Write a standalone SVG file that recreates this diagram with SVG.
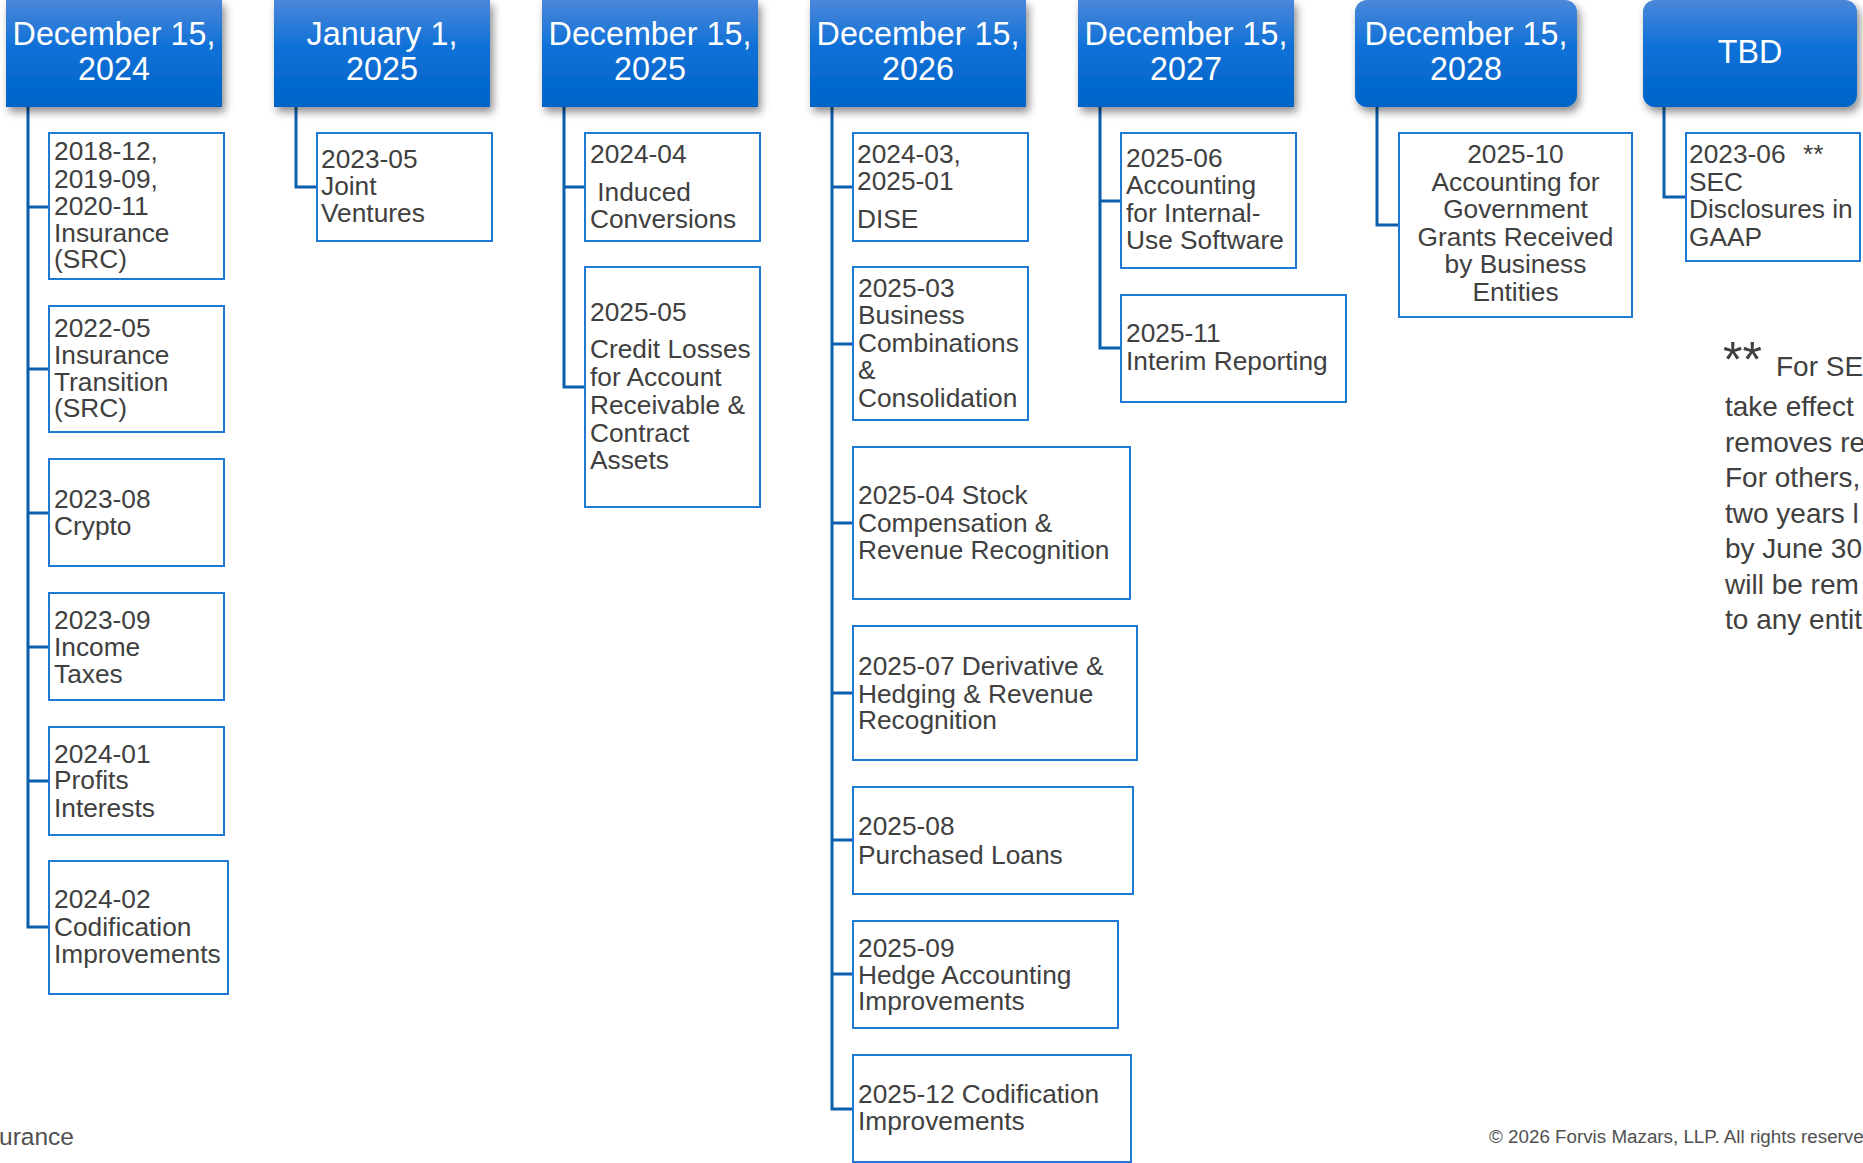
<svg xmlns="http://www.w3.org/2000/svg" width="1863" height="1163" viewBox="0 0 1863 1163">
  <defs>
    <linearGradient id="hdrFill" x1="0" y1="0" x2="0" y2="1">
      <stop offset="0" stop-color="#4b87da"/>
      <stop offset="0.45" stop-color="#0d70d7"/>
      <stop offset="1" stop-color="#0064c8"/>
    </linearGradient>
    <filter id="hdrShadow" x="-10%" y="-10%" width="125%" height="140%">
      <feDropShadow dx="3" dy="5" stdDeviation="4" flood-color="#000" flood-opacity="0.45"/>
    </filter>
  </defs>
  <style>
    .hdr { fill: url(#hdrFill); filter: url(#hdrShadow); }
    .hdr-t { font-family: "Liberation Sans", Arial, sans-serif; font-size: 32.3px; fill: #ffffff; text-anchor: middle; }
    .box { fill: #ffffff; stroke: #1f7ad6; stroke-width: 2; }
    .bt { font-family: "Liberation Sans", Arial, sans-serif; font-size: 26.3px; fill: #404040; }
    .btc { font-family: "Liberation Sans", Arial, sans-serif; font-size: 26.3px; fill: #404040; text-anchor: middle; }
    .link { fill: none; stroke: #0b5eae; stroke-width: 3; }
    .note { font-family: "Liberation Sans", Arial, sans-serif; font-size: 28px; fill: #404040; }
    .note-mark { font-family: "Liberation Sans", Arial, sans-serif; font-size: 50px; fill: #404040; }
    .foot { font-family: "Liberation Sans", Arial, sans-serif; fill: #505050; }
  </style>

  <rect width="1863" height="1163" fill="#ffffff"/>

  <!-- connectors: trunk from each date header with elbow branches into its items -->
  <g id="connectors">
    <path class="link" d="M28,107 V927 H49 M28,207 H49 M28,369 H49 M28,513 H49 M28,647 H49 M28,781 H49"/>
    <path class="link" d="M296,107 V187 H317"/>
    <path class="link" d="M564,107 V387 H585 M564,187 H585"/>
    <path class="link" d="M832,107 V1109 H853 M832,187 H853 M832,344 H853 M832,523 H853 M832,693 H853 M832,840 H853 M832,974 H853"/>
    <path class="link" d="M1100,107 V348 H1121 M1100,201 H1121"/>
    <path class="link" d="M1377,107 V225 H1399"/>
    <path class="link" d="M1664,107 V197 H1686"/>
  </g>

  <!-- date headers -->
  <g id="hdr-2024">
    <rect class="hdr" x="6" y="0" width="216" height="107"/>
    <text class="hdr-t" x="114" y="45">December 15,</text>
    <text class="hdr-t" x="114" y="80">2024</text>
  </g>
  <g id="hdr-2025-jan">
    <rect class="hdr" x="274" y="0" width="216" height="107"/>
    <text class="hdr-t" x="382" y="45">January 1,</text>
    <text class="hdr-t" x="382" y="80">2025</text>
  </g>
  <g id="hdr-2025">
    <rect class="hdr" x="542" y="0" width="216" height="107"/>
    <text class="hdr-t" x="650" y="45">December 15,</text>
    <text class="hdr-t" x="650" y="80">2025</text>
  </g>
  <g id="hdr-2026">
    <rect class="hdr" x="810" y="0" width="216" height="107"/>
    <text class="hdr-t" x="918" y="45">December 15,</text>
    <text class="hdr-t" x="918" y="80">2026</text>
  </g>
  <g id="hdr-2027">
    <rect class="hdr" x="1078" y="0" width="216" height="107"/>
    <text class="hdr-t" x="1186" y="45">December 15,</text>
    <text class="hdr-t" x="1186" y="80">2027</text>
  </g>
  <g id="hdr-2028">
    <rect class="hdr" x="1355" y="0" width="222" height="107" rx="12"/>
    <text class="hdr-t" x="1466" y="45">December 15,</text>
    <text class="hdr-t" x="1466" y="80">2028</text>
  </g>
  <g id="hdr-tbd">
    <rect class="hdr" x="1643" y="0" width="214" height="107" rx="12"/>
    <text class="hdr-t" x="1750" y="63">TBD</text>
  </g>

  <!-- December 15, 2024 -->
  <g id="asu-2018-12">
    <rect class="box" x="49" y="133" width="175" height="146"/>
    <text class="bt" x="54" y="160">2018-12,</text>
    <text class="bt" x="54" y="188">2019-09,</text>
    <text class="bt" x="54" y="215">2020-11</text>
    <text class="bt" x="54" y="242">Insurance</text>
    <text class="bt" x="54" y="268">(SRC)</text>
  </g>
  <g id="asu-2022-05">
    <rect class="box" x="49" y="306" width="175" height="126"/>
    <text class="bt" x="54" y="337">2022-05</text>
    <text class="bt" x="54" y="364">Insurance</text>
    <text class="bt" x="54" y="391">Transition</text>
    <text class="bt" x="54" y="417">(SRC)</text>
  </g>
  <g id="asu-2023-08">
    <rect class="box" x="49" y="459" width="175" height="107"/>
    <text class="bt" x="54" y="508">2023-08</text>
    <text class="bt" x="54" y="535">Crypto</text>
  </g>
  <g id="asu-2023-09">
    <rect class="box" x="49" y="593" width="175" height="107"/>
    <text class="bt" x="54" y="629">2023-09</text>
    <text class="bt" x="54" y="656">Income</text>
    <text class="bt" x="54" y="683">Taxes</text>
  </g>
  <g id="asu-2024-01">
    <rect class="box" x="49" y="727" width="175" height="108"/>
    <text class="bt" x="54" y="763">2024-01</text>
    <text class="bt" x="54" y="789">Profits</text>
    <text class="bt" x="54" y="817">Interests</text>
  </g>
  <g id="asu-2024-02">
    <rect class="box" x="49" y="861" width="179" height="133"/>
    <text class="bt" x="54" y="908">2024-02</text>
    <text class="bt" x="54" y="936">Codification</text>
    <text class="bt" x="54" y="963">Improvements</text>
  </g>

  <!-- January 1, 2025 -->
  <g id="asu-2023-05">
    <rect class="box" x="317" y="133" width="175" height="108"/>
    <text class="bt" x="321" y="168">2023-05</text>
    <text class="bt" x="321" y="195">Joint</text>
    <text class="bt" x="321" y="222">Ventures</text>
  </g>

  <!-- December 15, 2025 -->
  <g id="asu-2024-04">
    <rect class="box" x="585" y="133" width="175" height="108"/>
    <text class="bt" x="590" y="163">2024-04</text>
    <text class="bt" x="590" y="201" xml:space="preserve"> Induced</text>
    <text class="bt" x="590" y="228">Conversions</text>
  </g>
  <g id="asu-2025-05">
    <rect class="box" x="585" y="267" width="175" height="240"/>
    <text class="bt" x="590" y="321">2025-05</text>
    <text class="bt" x="590" y="358">Credit Losses</text>
    <text class="bt" x="590" y="386">for Account</text>
    <text class="bt" x="590" y="414">Receivable &amp;</text>
    <text class="bt" x="590" y="442">Contract</text>
    <text class="bt" x="590" y="469">Assets</text>
  </g>

  <!-- December 15, 2026 -->
  <g id="asu-2024-03">
    <rect class="box" x="853" y="133" width="175" height="108"/>
    <text class="bt" x="857" y="163">2024-03,</text>
    <text class="bt" x="857" y="190">2025-01</text>
    <text class="bt" x="857" y="228">DISE</text>
  </g>
  <g id="asu-2025-03">
    <rect class="box" x="853" y="267" width="175" height="153"/>
    <text class="bt" x="858" y="297">2025-03</text>
    <text class="bt" x="858" y="324">Business</text>
    <text class="bt" x="858" y="352">Combinations</text>
    <text class="bt" x="858" y="379">&amp;</text>
    <text class="bt" x="858" y="407">Consolidation</text>
  </g>
  <g id="asu-2025-04">
    <rect class="box" x="853" y="447" width="277" height="152"/>
    <text class="bt" x="858" y="504">2025-04 Stock</text>
    <text class="bt" x="858" y="532">Compensation &amp;</text>
    <text class="bt" x="858" y="559">Revenue Recognition</text>
  </g>
  <g id="asu-2025-07">
    <rect class="box" x="853" y="626" width="284" height="134"/>
    <text class="bt" x="858" y="675">2025-07 Derivative &amp;</text>
    <text class="bt" x="858" y="703">Hedging &amp; Revenue</text>
    <text class="bt" x="858" y="729">Recognition</text>
  </g>
  <g id="asu-2025-08">
    <rect class="box" x="853" y="787" width="280" height="107"/>
    <text class="bt" x="858" y="835">2025-08</text>
    <text class="bt" x="858" y="864">Purchased Loans</text>
  </g>
  <g id="asu-2025-09">
    <rect class="box" x="853" y="921" width="265" height="107"/>
    <text class="bt" x="858" y="957">2025-09</text>
    <text class="bt" x="858" y="984">Hedge Accounting</text>
    <text class="bt" x="858" y="1010">Improvements</text>
  </g>
  <g id="asu-2025-12">
    <rect class="box" x="853" y="1055" width="278" height="107"/>
    <text class="bt" x="858" y="1103">2025-12 Codification</text>
    <text class="bt" x="858" y="1130">Improvements</text>
  </g>

  <!-- December 15, 2027 -->
  <g id="asu-2025-06">
    <rect class="box" x="1121" y="133" width="175" height="135"/>
    <text class="bt" x="1126" y="167">2025-06</text>
    <text class="bt" x="1126" y="194">Accounting</text>
    <text class="bt" x="1126" y="222">for Internal-</text>
    <text class="bt" x="1126" y="249">Use Software</text>
  </g>
  <g id="asu-2025-11">
    <rect class="box" x="1121" y="295" width="225" height="107"/>
    <text class="bt" x="1126" y="342">2025-11</text>
    <text class="bt" x="1126" y="370">Interim Reporting</text>
  </g>

  <!-- December 15, 2028 -->
  <g id="asu-2025-10">
    <rect class="box" x="1399" y="133" width="233" height="184"/>
    <text class="btc" x="1515.5" y="163">2025-10</text>
    <text class="btc" x="1515.5" y="191">Accounting for</text>
    <text class="btc" x="1515.5" y="218">Government</text>
    <text class="btc" x="1515.5" y="246">Grants Received</text>
    <text class="btc" x="1515.5" y="273">by Business</text>
    <text class="btc" x="1515.5" y="301">Entities</text>
  </g>

  <!-- TBD -->
  <g id="asu-2023-06">
    <rect class="box" x="1686" y="133" width="174" height="128"/>
    <text class="bt" x="1689" y="163">2023-06</text>
    <text class="bt" x="1803" y="163">**</text>
    <text class="bt" x="1689" y="191">SEC</text>
    <text class="bt" x="1689" y="218">Disclosures in</text>
    <text class="bt" x="1689" y="246">GAAP</text>
  </g>

  <!-- footnote on the SEC disclosure item -->
  <g id="footnote">
    <text class="note-mark" x="1723" y="377">**</text>
    <text class="note" x="1776" y="376">For SE</text>
    <text class="note" x="1725" y="416">take effect</text>
    <text class="note" x="1725" y="452">removes re</text>
    <text class="note" x="1725" y="487">For others,</text>
    <text class="note" x="1725" y="523">two years l</text>
    <text class="note" x="1725" y="558">by June 30</text>
    <text class="note" x="1725" y="594">will be rem</text>
    <text class="note" x="1725" y="629">to any entit</text>
  </g>

  <!-- page footer -->
  <g id="footer">
    <text class="foot" x="-1" y="1145" font-size="24.5">urance</text>
    <text class="foot" x="1489" y="1143" font-size="18.8">© 2026 Forvis Mazars, LLP. All rights reserve</text>
  </g>
</svg>
